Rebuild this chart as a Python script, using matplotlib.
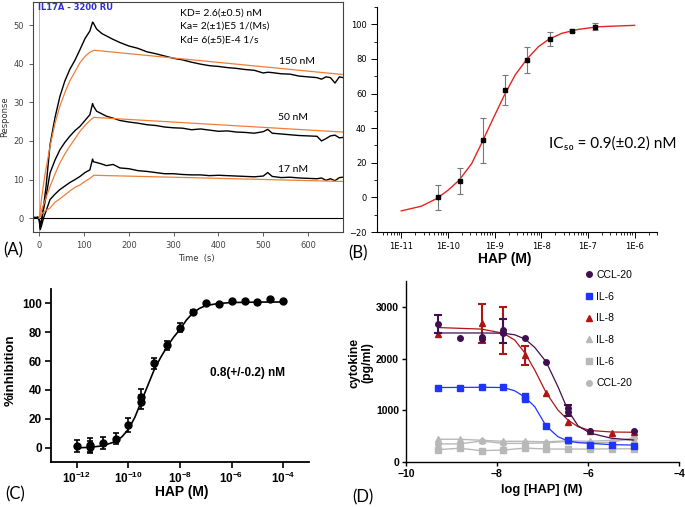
import matplotlib.pyplot as plt
import numpy as np
from matplotlib.lines import Line2D
from matplotlib.ticker import FixedLocator, MultipleLocator, NullLocator, FuncFormatter, LogLocator

plt.rcParams['mathtext.fontset'] = 'custom'
plt.rcParams['mathtext.rm'] = 'Liberation Sans'
plt.rcParams['mathtext.bf'] = 'Liberation Sans:bold'

# ---------------- (A) SPR sensorgram ----------------
time_s = [-14, -8, -3, 0, 2, 5, 10, 15, 24, 35, 46, 57, 68, 80, 91, 102, 113, 119, 121, 128,
          140, 150, 165, 180, 200, 220, 240, 260, 280, 300, 320, 340, 360, 380, 400, 420, 440,
          460, 480, 500, 510, 520, 540, 560, 580, 600, 620, 630, 640, 650, 660, 670, 678]
resp_150 = [0.3, 0.0, 0.2, -0.5, -2.5, -1.0, 3.5, 8.0, 19.0, 26.0, 31.5, 35.5, 38.5, 41.0, 43.7,
            46.5, 48.5, 50.8, 50.5, 49.0, 47.8, 47.2, 46.3, 45.5, 44.6, 44.0, 43.1, 42.6, 42.0,
            41.4, 41.0, 40.4, 39.9, 39.5, 39.3, 39.0, 38.8, 38.5, 38.3, 37.6, 37.8, 37.7, 37.4,
            37.3, 36.8, 36.6, 36.4, 36.0, 36.6, 36.4, 35.0, 36.6, 36.4]
resp_50 = [0.2, 0.1, 0.3, -0.3, -1.5, -0.5, 2.5, 5.5, 11.7, 15.0, 17.7, 19.6, 21.2, 22.7, 23.8,
           25.3, 26.8, 29.7, 29.0, 27.7, 27.0, 26.4, 25.9, 25.3, 24.9, 24.6, 24.2, 24.0, 23.6,
           23.4, 23.3, 22.9, 23.1, 22.8, 22.5, 22.6, 22.3, 22.2, 22.0, 22.4, 23.0, 22.0, 21.8,
           21.6, 21.4, 21.3, 21.2, 20.0, 20.6, 21.3, 21.5, 20.8, 20.9]
resp_17 = [0.1, 0.2, 0.0, -0.5, -3.0, -2.0, 0.2, 1.8, 4.8, 6.2, 7.4, 8.3, 9.2, 10.0, 10.8,
           11.8, 12.5, 15.3, 14.6, 14.4, 14.0, 13.6, 13.9, 13.0, 12.8, 12.3, 12.1, 11.8, 11.5,
           11.5, 11.3, 11.2, 11.2, 11.0, 11.1, 11.0, 10.9, 10.8, 10.7, 10.9, 11.8, 10.8, 10.5,
           10.6, 10.4, 10.3, 10.2, 10.4, 9.8, 10.2, 9.7, 10.5, 10.6]
fit_t = [0, 5, 12, 24, 35, 46, 57, 68, 80, 91, 102, 113, 122, 678]
fit_150 = [0, 5.0, 10.8, 18.6, 24.5, 29.0, 32.5, 35.5, 38.0, 40.3, 41.9, 43.0, 43.5, 37.2]
fit_50 = [0, 2.0, 4.3, 8.2, 11.4, 14.3, 16.6, 18.6, 20.6, 22.5, 24.0, 25.3, 26.1, 22.3]
fit_17 = [0, 1.0, 1.8, 2.6, 4.1, 5.0, 6.0, 7.0, 8.0, 8.6, 9.5, 10.3, 11.1, 9.5]

# ---------------- (B) inhibition, IC50 ----------------
log_conc_b = [-10.22, -9.74, -9.25, -8.77, -8.30, -7.82, -7.34, -6.85]
inhib_b = [0.0, 9.3, 32.9, 61.8, 79.5, 91.3, 96.3, 98.6]
err_b = [7.0, 7.5, 13.0, 8.7, 7.6, 4.0, 1.0, 2.0]
curve_log_b = [-11.0, -10.57, -10.24, -10.0, -9.76, -9.49, -9.28, -9.03, -8.79, -8.56, -8.31,
               -8.06, -7.84, -7.56, -7.2, -6.77, -6.0]
curve_b = [-7.8, -5.1, -0.7, 4.1, 9.9, 19.6, 31.2, 45.6, 59.1, 70.7, 79.8, 87.1, 91.3, 94.8,
           97.1, 98.6, 99.4]

# ---------------- (C) % inhibition ----------------
log_conc_c = [-12, -11.5, -11.5, -11, -10.5, -10, -9.5, -9.5, -9, -8.5, -8, -7.5, -7, -6.5,
              -6, -5.5, -5, -4.5, -4]
inhib_c = [1.1, 1.8, 0.3, 3.0, 6.2, 15.7, 35.3, 31.6, 58.4, 70.9, 83.2, 94.2, 100.0, 99.3,
           101.6, 101.9, 101.2, 102.8, 101.9]
err_c = [4, 5, 4, 4, 4, 5, 5, 5, 4, 3, 3, 1, 0.8, 0.8, 0.8, 0.8, 0.8, 0.8, 0.8]
curve_log_c = [-12, -11.5, -11, -10.5, -10.25, -10, -9.75, -9.5, -9.25, -9, -8.75, -8.5,
               -8.25, -8, -7.75, -7.5, -7.25, -7, -6.5, -6, -5, -4]
curve_c = [-0.2, 0.2, 1.2, 4.2, 7.5, 12.7, 21.0, 32.0, 43.0, 54.0, 62.5, 70.0, 76.5, 82.0,
           88.5, 93.4, 96.5, 98.5, 100.0, 100.6, 100.9, 101.0]

# ---------------- (D) cytokines ----------------
ccl20_x = [-9.3, -8.82, -8.34, -8.34, -7.86, -7.86, -7.38, -6.92, -6.44, -6.44, -5.96, -5.0]
ccl20_y = [2670, 2390, 2420, 2370, 2550, 2490, 2390, 1925, 1037, 972, 592, 592]
ccl20_err_x = [-9.3, -7.86, -6.44]
ccl20_err_y = [2670, 2530, 1000]
ccl20_err = [180, 235, 110]
il8_x = [-9.3, -8.34, -7.86, -7.38, -6.92, -6.44, -5.96, -5.48, -5.0]
il8_y = [2470, 2680, 2540, 2060, 1340, 779, 600, 554, 580]
il8_err_x = [-8.34, -7.86, -7.38]
il8_err_y = [2680, 2540, 2060]
il8_err = [370, 460, 175]
il6_x = [-9.3, -8.82, -8.34, -7.86, -7.38, -7.38, -6.92, -6.44, -5.96, -5.48, -5.0]
il6_y = [1423, 1436, 1455, 1442, 1281, 1211, 695, 425, 330, 328, 315]
fit_x_d = [-9.3, -8.34, -7.86, -7.61, -7.38, -7.17, -6.92, -6.66, -6.44, -6.22, -5.96, -5.48, -5.0]
fit_ccl20 = [2495, 2495, 2490, 2460, 2376, 2215, 1937, 1455, 1000, 700, 560, 458, 425]
fit_il8 = [2600, 2570, 2490, 2357, 2100, 1777, 1340, 1004, 811, 683, 610, 580, 575]
fit_il6 = [1440, 1445, 1440, 1377, 1250, 1069, 695, 489, 405, 375, 361, 335, 328]
ctrl_x = [-9.3, -8.82, -8.34, -7.86, -7.38, -6.92, -6.44, -5.96, -5.48, -5.0]
ctrl_il8 = [440, 440, 420, 400, 400, 390, 410, 400, 420, 430]
ctrl_ccl20 = [350, 350, 405, 360, 360, 370, 400, 370, 380, 470]
ctrl_il6 = [240, 265, 220, 230, 270, 250, 250, 250, 255, 255]

W, H = 685, 507


def box(l, t, r, b):
    return [l / W, 1 - b / H, (r - l) / W, (b - t) / H]


def ftext(x, y, s, **kw):
    fig.text(x / W, 1 - y / H, s, **kw)


fig = plt.figure(figsize=(6.85, 5.07), dpi=100)

# ---- A
axA = fig.add_axes(box(33, 2, 343, 232))
axA.axhline(0, color='black', lw=0.8)
axA.axvline(0, color='#b0b0b0', lw=0.6)
for r in (resp_150, resp_50, resp_17):
    axA.plot(time_s, r, color='black', lw=1.0)
for f in (fit_150, fit_50, fit_17):
    axA.plot(fit_t, f, color='#f07e3a', lw=0.9)
axA.set_xlim(-14, 678)
axA.set_ylim(-3.6, 56)
axA.set_xticks(range(0, 700, 100))
axA.set_yticks(range(0, 60, 10))
axA.tick_params(labelsize=6, colors='#444444', length=3, width=0.6)
for s in axA.spines.values():
    s.set_color('#444444')
    s.set_linewidth(0.8)
ftext(38, 8, 'IL17A - 3200 RU', color='#3030d0', fontsize=6, fontweight='bold', va='center')
for i, s in enumerate(['KD= 2.6(\u00b10.5) nM', 'Ka= 2(\u00b11)E5 1/(Ms)', 'Kd= 6(\u00b15)E-4 1/s']):
    ftext(180, 13 + 13.3 * i, s, fontsize=7.5, family='Lato', va='center')
ftext(297, 62, '150 nM', fontsize=7.5, family='Lato', ha='center', va='center')
ftext(293, 118, '50 nM', fontsize=7.5, family='Lato', ha='center', va='center')
ftext(293, 170, '17 nM', fontsize=7.5, family='Lato', ha='center', va='center')
ftext(5, 117, 'Response', fontsize=6, rotation=90, ha='center', va='center', color='#333333')
ftext(196, 258, 'Time  (s)', fontsize=6, ha='center', va='center', color='#333333')
ftext(13, 250, '(A)', fontsize=12, family='Lato', ha='center', va='center')

# ---- B
axB = fig.add_axes(box(377, 7, 657, 232))
curve_conc_b = [10 ** v for v in curve_log_b]
conc_b = [10 ** v for v in log_conc_b]
axB.plot(curve_conc_b, curve_b, color='#e8231f', lw=1.0)
axB.errorbar(conc_b, inhib_b, yerr=err_b, fmt='none', ecolor='#777777', elinewidth=0.8,
             capsize=2, capthick=0.8)
axB.plot(conc_b, inhib_b, 's', color='black', ms=3.2)
axB.set_xscale('log')
axB.set_xlim(10 ** -11.52, 10 ** -5.52)
axB.set_ylim(-20, 110)
axB.xaxis.set_major_locator(FixedLocator([1e-11, 1e-10, 1e-9, 1e-8, 1e-7, 1e-6]))
axB.xaxis.set_minor_locator(LogLocator(base=10, subs=np.arange(2, 10), numticks=20))
axB.xaxis.set_major_formatter(FuncFormatter(lambda v, p: '1E%d' % round(np.log10(v))))
axB.set_yticks(range(-20, 101, 20))
axB.yaxis.set_minor_locator(MultipleLocator(10))
axB.tick_params(labelsize=6, length=4, width=0.7)
axB.tick_params(which='minor', length=2, width=0.6)
axB.spines['top'].set_visible(False)
axB.spines['right'].set_visible(False)
ftext(549, 144, 'IC\u2085\u2080 = 0.9(\u00b10.2) nM', fontsize=11, family=['Lato', 'DejaVu Sans'],
      va='center')
ftext(505, 259, 'HAP (M)', fontsize=10, fontweight='bold', family='Liberation Sans',
      ha='center', va='center')
ftext(358, 253, '(B)', fontsize=12, family='Lato', ha='center', va='center')

# ---- C
axC = fig.add_axes(box(51, 289, 309, 462))
conc_c = [10 ** v for v in log_conc_c]
axC.plot([10 ** v for v in curve_log_c], curve_c, color='black', lw=1.2)
axC.errorbar(conc_c, inhib_c, yerr=err_c, fmt='o', color='black', ms=5, elinewidth=1.2,
             capsize=2.5, capthick=1.2)
axC.set_xscale('log')
axC.set_xlim(1e-13, 1e-3)
axC.set_ylim(-10, 110)
axC.xaxis.set_major_locator(FixedLocator([1e-12, 1e-10, 1e-8, 1e-6, 1e-4]))
axC.xaxis.set_minor_locator(NullLocator())
axC.xaxis.set_major_formatter(FuncFormatter(
    lambda v, p: r'$\mathbf{10^{%d}}$' % round(np.log10(v))))
axC.set_yticks(range(0, 101, 20))
axC.tick_params(labelsize=8.5, length=4, width=1.2, pad=2.5)
for lab in axC.get_yticklabels():
    lab.set_fontweight('bold')
    lab.set_family('Liberation Sans')
axC.spines['top'].set_visible(False)
axC.spines['right'].set_visible(False)
axC.spines['left'].set_linewidth(1.3)
axC.spines['bottom'].set_linewidth(1.3)
ftext(247, 373, '0.8(+/-0.2) nM', fontsize=8.5, fontweight='bold', family='Liberation Sans',
      ha='center', va='center')
ftext(11, 370, '%inhibition', fontsize=9.5, fontweight='bold', family='Liberation Sans',
      rotation=90, ha='center', va='center')
ftext(182, 492, 'HAP (M)', fontsize=10, fontweight='bold', family='Liberation Sans',
      ha='center', va='center')
ftext(15, 494, '(C)', fontsize=12, family='Lato', ha='center', va='center')

# ---- D
purple = '#3f0f4f'
red = '#b01515'
blue = '#1f35ff'
grey = '#b8b8b8'
axD = fig.add_axes(box(406, 281, 679, 462))
axD.plot(ctrl_x, ctrl_il8, color=grey, lw=1.0, marker='^', ms=4)
axD.plot(ctrl_x, ctrl_il6, color=grey, lw=1.0, marker='s', ms=4)
axD.plot(ctrl_x, ctrl_ccl20, color=grey, lw=1.0, marker='o', ms=4)
axD.plot(fit_x_d, fit_il6, color=blue, lw=0.9)
axD.plot(il6_x, il6_y, 's', color=blue, ms=4.2)
axD.plot(fit_x_d, fit_il8, color=red, lw=0.9)
axD.errorbar(il8_err_x, il8_err_y, yerr=il8_err, fmt='none', ecolor=red, elinewidth=1.5,
             capsize=3, capthick=1.5)
axD.plot(il8_x, il8_y, '^', color=red, ms=4)
axD.plot(fit_x_d, fit_ccl20, color=purple, lw=0.9)
axD.errorbar(ccl20_err_x, ccl20_err_y, yerr=ccl20_err, fmt='none', ecolor=purple,
             elinewidth=1.5, capsize=3, capthick=1.5)
axD.plot(ccl20_x, ccl20_y, 'o', color=purple, ms=4)
axD.set_xlim(-10, -4)
axD.set_ylim(0, 3500)
axD.set_xticks([-10, -8, -6, -4])
axD.set_yticks([0, 1000, 2000, 3000])
axD.tick_params(labelsize=7.5, length=3, width=1.0, pad=2)
for lab in axD.get_xticklabels() + axD.get_yticklabels():
    lab.set_fontweight('bold')
    lab.set_family('Liberation Sans')
axD.spines['top'].set_visible(False)
axD.spines['right'].set_visible(False)
axD.spines['left'].set_linewidth(1.0)
axD.spines['bottom'].set_linewidth(1.0)
handles = [
    Line2D([], [], ls='none', marker='o', color=purple, ms=4),
    Line2D([], [], ls='none', marker='s', color=blue, ms=4),
    Line2D([], [], ls='none', marker='^', color=red, ms=4),
    Line2D([], [], ls='none', marker='^', color=grey, ms=4),
    Line2D([], [], ls='none', marker='s', color=grey, ms=4),
    Line2D([], [], ls='none', marker='o', color=grey, ms=4),
]
labels = ['CCL-20', 'IL-6', 'IL-8', 'IL-8', 'IL-6', 'CCL-20']
fig.legend(handles, labels, loc='upper left', bbox_to_anchor=(585 / W, 1 - 270 / H),
           frameon=False, borderpad=0, borderaxespad=0, handlelength=0.8,
           handletextpad=0.3, labelspacing=1.12, prop={'family': 'Liberation Sans', 'size': 7.5})
ftext(361, 363, 'cytokine\n(pg/ml)', fontsize=8.8, fontweight='bold', family='Liberation Sans',
      rotation=90, ha='center', va='center', linespacing=1.0)
ftext(542, 490, 'log [HAP] (M)', fontsize=9.3, fontweight='bold', family='Liberation Sans',
      ha='center', va='center')
ftext(363, 497, '(D)', fontsize=12, family='Lato', ha='center', va='center')

fig.savefig('out.png', dpi=100)
